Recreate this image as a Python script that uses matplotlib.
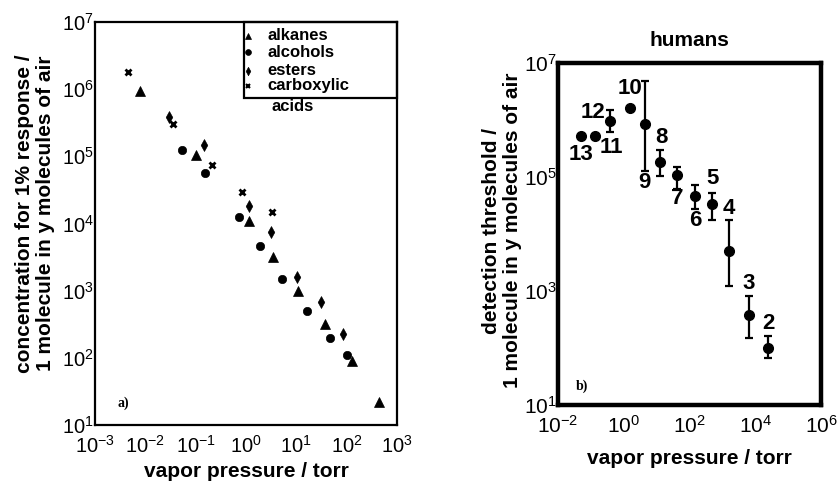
import matplotlib.pyplot as plt
from matplotlib.patches import Rectangle
import numpy as np

plt.rcParams['font.family'] = ['Liberation Sans', 'DejaVu Sans']
plt.rcParams['mathtext.default'] = 'regular'
plt.rcParams['axes.unicode_minus'] = False

# a) response of the sensor array vs vapor pressure, by compound class
alk_vp = [0.00785, 0.10, 1.14, 3.4, 11, 37, 126, 447]
alk_c = [9.5e5, 1.05e5, 1.1e4, 3.2e3, 980, 316, 91, 22]

alc_vp = [0.054, 0.155, 0.71, 1.9, 5.2, 16, 47, 100]
alc_c = [1.26e5, 5.6e4, 1.26e4, 4.6e3, 1.5e3, 490, 200, 112]

est_vp = [0.029, 0.145, 1.17, 3.2, 10.5, 31, 85]
est_c = [3.8e5, 1.45e5, 1.8e4, 7.4e3, 1.6e3, 680, 224]

acid_vp = [0.0045, 0.035, 0.215, 0.835, 3.26]
acid_c = [1.8e6, 3.0e5, 7.4e4, 2.95e4, 1.5e4]

# b) human detection thresholds, numbered by chain length
hum_id = ['13', '11', '12', '10', '9', '8', '7', '6', '5', '4', '3', '2']
hum_vp = [0.05, 0.133, 0.38, 1.55, 4.3, 12.9, 41, 148, 500, 1580, 6500, 2.5e4]
hum_thr = [5.2e5, 5.2e5, 9.5e5, 1.6e6, 8.5e5, 1.8e5, 1.1e5, 4.7e4, 3.4e4, 5.0e3, 380, 102]
hum_hi = [5.2e5, 5.2e5, 1.5e6, 1.6e6, 4.8e6, 3.0e5, 1.5e5, 7.1e4, 5.2e4, 1.75e4, 830, 160]
hum_lo = [5.2e5, 5.2e5, 6.2e5, 1.6e6, 1.3e5, 1.05e5, 6.2e4, 2.7e4, 1.75e4, 1.23e3, 150, 66]

# label offsets (points) for the numbers next to each point
lab_off = [(0, -13), (12, -8), (-12, 6), (0, 14), (0, -42), (1, 18),
           (0, -17), (0, -18), (0, 18), (0, 31), (0, 23), (0, 17)]

# narrow diamond for the esters
thin_d = [(0, -1), (0.55, 0), (0, 1), (-0.55, 0), (0, -1)]

fig = plt.figure(figsize=(8.4, 4.83), dpi=100, facecolor='w')

#_____________________       PANEL a)      ____________________________________
ax1 = fig.add_axes([95/840, 58/483, 302/840, 403/483])
series = [(alk_vp, alk_c, '^', 6.5, 'alkanes'),
          (alc_vp, alc_c, 'o', 6, 'alcohols'),
          (est_vp, est_c, thin_d, 8.5, 'esters'),
          (acid_vp, acid_c, 'x', 5, 'carboxylic')]
for vp, c, m, ms, lab in series:
    ax1.plot(vp, c, marker=m, color='k', ms=ms, mew=2 if m == 'x' else 0.5,
             ls='none')

ax1.set_xscale('log')
ax1.set_yscale('log')
ax1.set_xlim(1e-3, 1e3)
ax1.set_ylim(1e1, 1e7)
ax1.set_xticks([10.0**k for k in range(-3, 4)])
ax1.set_yticks([10.0**k for k in range(1, 8)])
ax1.minorticks_off()
ax1.tick_params(length=0, labelsize=14.5)
ax1.tick_params(axis='x', pad=7)
ax1.tick_params(axis='y', pad=1)
for s in ax1.spines.values():
    s.set_linewidth(1.6)
ax1.set_xlabel('vapor pressure / torr', fontsize=15, fontweight='bold', labelpad=4)
ax1.set_ylabel('concentration for 1% response /\n1 molecule in y molecules of air',
               fontsize=15, fontweight='bold', linespacing=1.1)
ax1.yaxis.set_label_coords(-0.133, 0.525)
ax1.text(0.093, 0.055, 'a)', transform=ax1.transAxes, fontsize=10,
         fontweight='bold', family='Liberation Serif', ha='center', va='center')

# boxed key, the last label runs out under the frame
ax1.add_patch(Rectangle((0.493, 0.811), 0.507, 0.189, transform=ax1.transAxes,
                        fill=False, lw=1.6, ec='k', clip_on=False))
key_y = [0.966, 0.925, 0.879, 0.842]
for (vp, c, m, ms, lab), ky in zip(series, key_y):
    ax1.plot([0.507], [ky], marker=m, color='k', ms=ms*0.7,
             mew=1.5 if m == 'x' else 0.5,
             transform=ax1.transAxes, clip_on=False)
    ax1.text(0.57, ky, lab, transform=ax1.transAxes, fontsize=12,
             fontweight='bold', va='center', ha='left')
ax1.text(0.585, 0.79, 'acids', transform=ax1.transAxes, fontsize=12,
         fontweight='bold', va='center', ha='left')

#_____________________       PANEL b)      ____________________________________
ax2 = fig.add_axes([558/840, 78/483, 263/840, 342/483])
thr = np.array(hum_thr)
err = [thr - np.array(hum_lo), np.array(hum_hi) - thr]
ax2.errorbar(hum_vp, hum_thr, yerr=err, fmt='o', color='k', ms=7,
             elinewidth=1.6, capsize=3, capthick=1.6)
for name, x, y, off in zip(hum_id, hum_vp, hum_thr, lab_off):
    ax2.annotate(name, (x, y), xytext=off, textcoords='offset points',
                 ha='center', va='center', fontsize=16, fontweight='bold')

ax2.set_xscale('log')
ax2.set_yscale('log')
ax2.set_xlim(1e-2, 1e6)
ax2.set_ylim(1e1, 1e7)
ax2.set_xticks([10.0**k for k in range(-2, 7, 2)])
ax2.set_yticks([10.0**k for k in range(1, 8, 2)])
ax2.minorticks_off()
ax2.tick_params(length=0, labelsize=15)
ax2.tick_params(axis='x', pad=7)
ax2.tick_params(axis='y', pad=1)
for s in ax2.spines.values():
    s.set_linewidth(3.2)
ax2.set_title('humans', fontsize=15, fontweight='bold', pad=12)
ax2.set_xlabel('vapor pressure / torr', fontsize=15, fontweight='bold', labelpad=9)
ax2.set_ylabel('detection threshold /\n1 molecule in y molecules of air',
               fontsize=15, fontweight='bold', linespacing=1.1)
ax2.yaxis.set_label_coords(-0.137, 0.51)
ax2.text(0.09, 0.056, 'b)', transform=ax2.transAxes, fontsize=10,
         fontweight='bold', family='Liberation Serif', ha='center', va='center')

fig.savefig('out.png', dpi=100)
